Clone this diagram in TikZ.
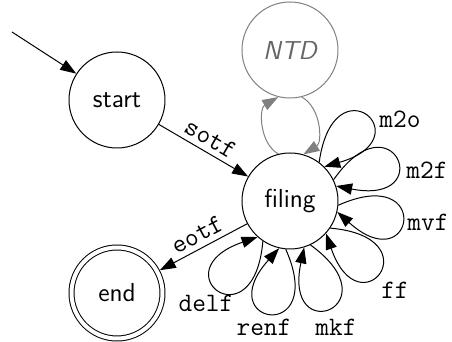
\documentclass[tikz,border=0pt]{standalone}
\usepackage{xcolor}
\usepackage{tikz}
\usetikzlibrary{arrows.meta,calc}

\begin{document}
\begin{tikzpicture}[x=0.5pt,y=0.5pt,>={Triangle[length=8pt,width=5.6pt]},line join=round,
  state/.style={circle,draw,line width=0.5pt,minimum size=48pt,inner sep=0pt,font=\fontsize{13}{15}\selectfont\sffamily},
  ghost/.style={state,draw=black!50,text=black!60,font=\fontsize{13}{15}\selectfont\sffamily\itshape},
  final/.style={state,double,double distance=2pt,minimum size=45.5pt,outer sep=1.5pt},
  edge/.style={->,line width=0.5pt},
  ghostedge/.style={edge,draw=black!50},
  lbl/.style={font=\fontsize{13.3}{15}\selectfont\ttfamily,inner sep=2.5pt}]
  \useasboundingbox (0,0) rectangle (452,342);
  \node[state] (start) at (117,242) {start};
  \node[state] (filing) at (290,141) {filing};
  \node[ghost] (NTD) at (290,292) {NTD};
  \node[final] (end) at (117,49) {end};
  \coordinate (entry) at (12,310);
  \draw[edge] (entry) -- (start);
  \draw[edge] (start) -- node[lbl,sloped,above] (Lsotf) {sotf} (filing);
  \draw[edge] (filing) -- node[lbl,sloped,above] (Leotf) {eotf} (end);
  \draw[ghostedge] (filing.104) to[bend left=60] (NTD.256);
  \draw[ghostedge] (NTD.284) to[bend left=60] (filing.74);
  % self loops, clockwise round filing
  \draw[edge] (filing.53) .. controls +(82:104) and +(16:104) .. (filing.45);
  \draw[edge] (filing.26) .. controls +(55:104) and +(-11:104) .. (filing.18);
  \draw[edge] (filing.-5) .. controls +(24:104) and +(-42:104) .. (filing.-13);
  \draw[edge] (filing.-34) .. controls +(-5:104) and +(-71:104) .. (filing.-42);
  \draw[edge] (filing.-65) .. controls +(-36:104) and +(-102:104) .. (filing.-73);
  \draw[edge] (filing.-95) .. controls +(-66:104) and +(-132:104) .. (filing.-103);
  \draw[edge] (filing.-124) .. controls +(-95:104) and +(-161:104) .. (filing.-132);
  \node[lbl] (Lm2o) at (400,223) {m2o};
  \node[lbl] (Lm2f) at (427,172) {m2f};
  \node[lbl] (Lmvf) at (428,120) {mvf};
  \node[lbl] (Lff) at (395,52) {ff};
  \node[lbl] (Lmkf) at (336,15) {mkf};
  \node[lbl] (Lrenf) at (264,15) {renf};
  \node[lbl] (Ldelf) at (206,39) {delf};
\end{tikzpicture}
\end{document}
